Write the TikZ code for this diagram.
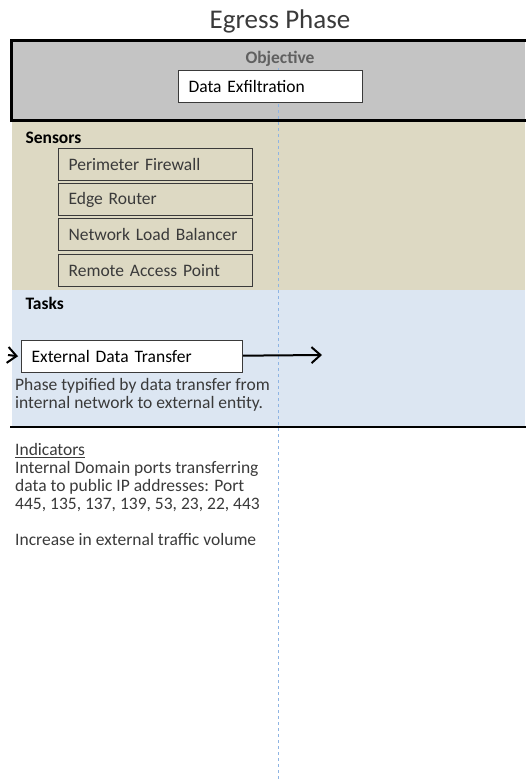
\documentclass[tikz,border=0pt]{standalone}
\usepackage{fontspec}
\setmainfont{Carlito}
\usetikzlibrary{arrows.meta}
\definecolor{objgray}{HTML}{C4C4C4}
\definecolor{sensortan}{HTML}{DDD9C3}
\definecolor{taskblue}{HTML}{DCE6F2}
\definecolor{guideblue}{HTML}{8EB4E3}
\definecolor{inkgray}{HTML}{3A3A3A}
\begin{document}
\begin{tikzpicture}[x=1pt,y=-1pt,
    every node/.style={font=\fontsize{17.5}{18}\selectfont, text=inkgray},
    box/.style={draw=inkgray, line width=1.2pt, anchor=north west, inner xsep=10pt,
      inner ysep=0pt, minimum height=32pt, text width=#1, align=left},
    flow/.style={draw=black, line width=2pt, -{Straight Barb[length=9pt,width=16pt]}}]

      \useasboundingbox (0,0) rectangle (525,782);

      % bands
      \fill[objgray]   (11,40)  rectangle (525,120);
      \fill[sensortan] (12,120) rectangle (525,290);
      \fill[taskblue]  (12,290) rectangle (525,427);

      % guide line
      \draw[guideblue, dashed, line width=1pt] (278,68) -- (278,782);

      \draw[line width=3pt] (527,40) -- (11,40) -- (11,120) -- (527,120);
      \draw[line width=2.5pt] (10,427) -- (527,427);

      \node (title) at (280,21) {\fontsize{27}{29}\selectfont Egress Phase};

      \node[text=gray!75!black] (obj) at (280,59) {\bfseries Objective};
      \node[box=164pt, fill=white, text=black] (goal) at (178,70) {Data Exfiltration};

      \node[anchor=west, text=black] (sens) at (22,138) {\bfseries Sensors};
      \begin{scope}[every node/.append style={box=174pt}]
        \node (s1) at (58,148) {Perimeter Firewall};
        \node (s2) at (58,183) {Edge Router};
        \node (s3) at (58,218) {Network Load Balancer};
        \node (s4) at (58,254) {Remote Access Point};
      \end{scope}

      \node[anchor=west, text=black] (tasks) at (22,303) {\bfseries Tasks};
      \node[box=201pt, fill=white, text=black] (xfer) at (21,340) {External Data Transfer};
      \coordinate (in)  at (8,355);
      \coordinate (out) at (322,355);
      \path (in)   edge[flow, shorten >=3pt] (xfer.west);
      \path (xfer) edge[flow] (out);

      \node[anchor=north west, align=left, inner sep=0pt] (desc) at (15,378)
        {Phase typified by data transfer from\\internal network to external entity.};

      \node[anchor=north west, align=left, inner sep=0pt] (ind) at (15,443)
        {\underline{Indicators}\\Internal Domain ports transferring\\data to public IP addresses: Port\\445, 135, 137, 139, 53, 23, 22, 443\\[18pt]Increase in external traffic volume};

    \end{tikzpicture}
\end{document}
